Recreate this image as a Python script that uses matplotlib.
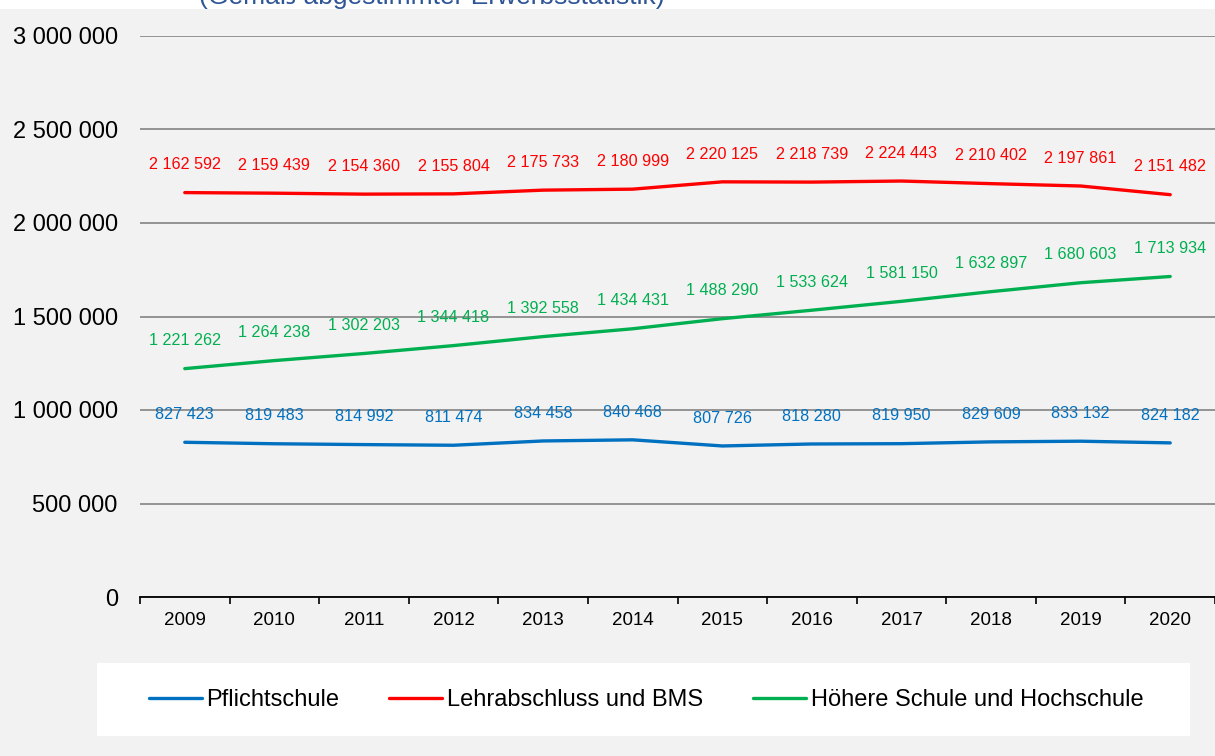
import matplotlib.pyplot as plt
from matplotlib.patches import Rectangle
from matplotlib.ticker import FuncFormatter

plt.rcParams['font.family'] = ['Liberation Sans', 'DejaVu Sans']

years = [2009, 2010, 2011, 2012, 2013, 2014, 2015, 2016, 2017, 2018, 2019, 2020]
pflichtschule = [827423, 819483, 814992, 811474, 834458, 840468,
                 807726, 818280, 819950, 829609, 833132, 824182]
lehre_bms = [2162592, 2159439, 2154360, 2155804, 2175733, 2180999,
             2220125, 2218739, 2224443, 2210402, 2197861, 2151482]
hoehere_hoch = [1221262, 1264238, 1302203, 1344418, 1392558, 1434431,
                1488290, 1533624, 1581150, 1632897, 1680603, 1713934]

series = [
    ("Pflichtschule", pflichtschule, "#0070C0"),
    ("Lehrabschluss und BMS", lehre_bms, "#FF0000"),
    ("Höhere Schule und Hochschule", hoehere_hoch, "#00B050"),
]


def space_thousands(v, pos=None):
    return f"{int(v):,}".replace(",", " ")


W, H = 1215, 756
fig = plt.figure(figsize=(W / 100, H / 100), dpi=100, facecolor="#F2F2F2")

# white strip with the cut-off subtitle at the very top
fig.patches.append(Rectangle((0, 1 - 9 / H), 1, 9 / H, transform=fig.transFigure,
                             facecolor="white", edgecolor="none", zorder=0))
fig.text(432 / W, 1 + 3 / H, "(Gemäß abgestimmter Erwerbsstatistik)",
         ha="center", va="center", fontsize=19, color="#2F5597")

ax = fig.add_axes([140 / W, 1 - 597 / H, (W - 140) / W, (597 - 36) / H])
ax.set_facecolor("#F2F2F2")

x = list(range(len(years)))
for name, vals, col in series:
    ax.plot(x, vals, color=col, lw=2.4, label=name, solid_capstyle="round")
    for xi, v in zip(x, vals):
        ax.annotate(space_thousands(v), (xi, v), xytext=(0, 20), textcoords="offset points",
                    ha="center", va="center", fontsize=11.6, color=col)

ax.set_xlim(-0.5, len(years) - 0.5)
ax.set_ylim(0, 3000000)
ax.set_yticks(range(0, 3000001, 500000))
ax.yaxis.set_major_formatter(FuncFormatter(space_thousands))
ax.grid(axis="y", color="#8C8C8C", lw=1.3)
ax.set_axisbelow(True)

ax.set_xticks(x)
ax.set_xticklabels([str(y) for y in years], fontsize=13.5)
ax.set_xticks([i - 0.5 for i in range(len(years) + 1)], minor=True)
ax.tick_params(axis="x", which="major", length=0, pad=11)
ax.tick_params(axis="x", which="minor", length=5, width=1.2, color="black", direction="out")
ax.tick_params(axis="y", length=0, labelsize=17, pad=16)

for side in ("top", "right", "left"):
    ax.spines[side].set_visible(False)
ax.spines["bottom"].set_color("black")
ax.spines["bottom"].set_linewidth(1.3)

# legend panel
fig.patches.append(Rectangle((97 / W, 1 - 736 / H), (1190 - 97) / W, (736 - 663) / H,
                             transform=fig.transFigure, facecolor="white",
                             edgecolor="none", zorder=0))
fig.legend(loc="center", bbox_to_anchor=(646 / W, 1 - 700 / H), ncol=3, frameon=False,
           fontsize=17, handlelength=2.25, handletextpad=0.2, columnspacing=2.1)

fig.savefig("out.png", dpi=100, facecolor=fig.get_facecolor())
